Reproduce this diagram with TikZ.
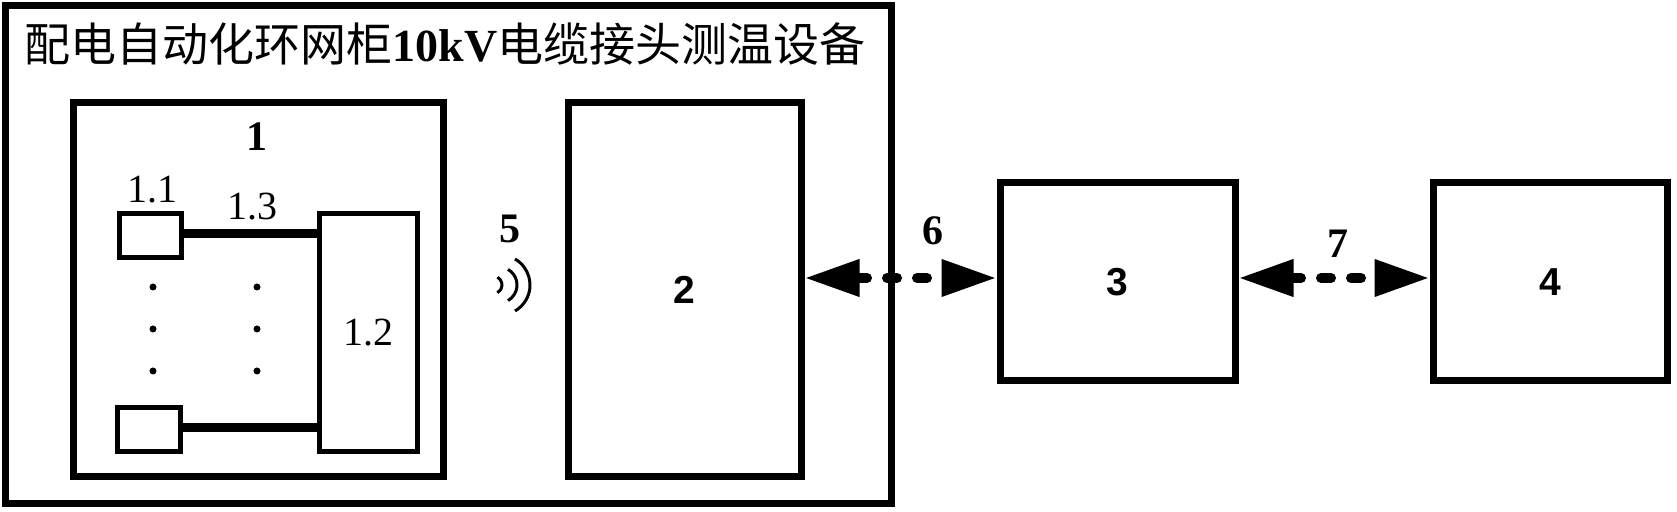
\documentclass[tikz,border=0pt]{standalone}
\usepackage{fontspec}
\setmainfont{Liberation Serif}
\setsansfont{Liberation Sans}
\newfontfamily\cjk{Noto Sans CJK SC}
\usetikzlibrary{arrows.meta}

\begin{document}
\begin{tikzpicture}[x=0.5pt,y=-0.5pt,
  unit/.style={draw,line width=3.5pt,inner sep=0pt},
  part/.style={draw,line width=2.5pt,inner sep=0pt},
  num/.style={inner sep=0pt,font=\fontsize{21pt}{25pt}\selectfont\bfseries},
  snum/.style={font=\fontsize{19.5pt}{24pt}\selectfont\sffamily\bfseries},
  sub/.style={inner sep=0pt,font=\fontsize{20pt}{24pt}\selectfont},
  cable/.style={line width=4.5pt},
  link/.style={{Triangle[length=27.5pt,width=17.5pt]}-{Triangle[length=27.5pt,width=17.5pt]},
    line width=5pt,line cap=round,dash pattern=on 5pt off 10pt},
  wave/.style={line width=1.5pt}]
  \useasboundingbox (0,0) rectangle (1677,512);

  % cabinet with title
  \node[unit,minimum width=443pt,minimum height=249pt] (cab) at (448,255) {};
  \node[inner sep=0pt,font=\fontsize{23pt}{27pt}\selectfont] (title) at (445,44)
    {\cjk 配电自动化环网柜\textrm{\bfseries 10kV}电缆接头测温设备};

  % unit 1: probes, cables, collector
  \node[unit,minimum width=185pt,minimum height=187pt] (u1) at (258,290) {};
  \node[num] (n1) at (257,137) {1};
  \node[part,minimum width=31pt,minimum height=22pt] (p1) at (150,236) {};
  \node[part,minimum width=31.5pt,minimum height=22pt] (p2) at (148.5,430) {};
  \node[part,sub,minimum width=49pt,minimum height=119pt] (rx) at (368,333) {1.2};
  \node[sub] (n11) at (152,190) {1.1};
  \node[sub] (n13) at (252,207) {1.3};
  \draw[cable] ([yshift=1pt]p1.east) -- ([yshift=1pt]p1.east -| rx.west);
  \draw[cable] ([yshift=1pt]p2.east) -- ([yshift=1pt]p2.east -| rx.west);
  \foreach \y in {287,329,371}{
    \fill (153,\y) circle[radius=1.75pt];
    \fill (257,\y) circle[radius=1.75pt];
  }

  % wireless 5
  \node[num] (n5) at (510,229) {5};
  \foreach \cx/\r in {493/9,499/18,500/30}
    \draw[wave] (\cx,285) ++(-60:\r) arc[start angle=-60,end angle=60,radius=\r];

  % units 2, 3, 4
  \node[unit,snum,minimum width=116.5pt,minimum height=187pt] (u2) at (684.5,290) {2};
  \node[unit,snum,minimum width=117.5pt,minimum height=99pt] (u3) at (1117.5,282) {3};
  \node[unit,snum,minimum width=117pt,minimum height=99pt] (u4) at (1550,282) {4};

  % links 6, 7
  \draw[link] ([yshift=2pt]u3.west -| u2.east) -- ([yshift=2pt]u3.west);
  \draw[link] ([yshift=2pt]u3.east) -- ([yshift=2pt]u4.west);
  \node[num] (n6) at (933,231) {6};
  \node[num] (n7) at (1338,244) {7};
\end{tikzpicture}
\end{document}
